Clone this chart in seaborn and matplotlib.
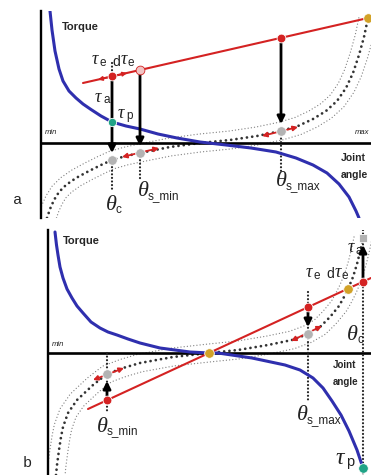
import numpy as np
import matplotlib
matplotlib.use("Agg")
import matplotlib.pyplot as plt
import seaborn as sns

# schematic units: joint angle along x, torque along y (1 unit ~ 1 px)

# ---- panel a ----
a_passive_angle = [9, 11, 14, 18, 22, 28, 35, 42, 50, 60, 71, 85, 99, 117, 136, 159, 185, 210, 235, 255, 272, 286, 298, 308, 315, 318]
a_passive_torque = [132, 113, 92, 74, 62, 52, 45, 39, 33.5, 27, 21, 17, 14, 9, 5, 1, -2, -5, -9, -15, -22, -30, -41, -54, -68, -75]
a_stiff_angle = [6, 9, 13, 18, 25, 35, 48, 60, 71, 85, 99, 129, 159, 189, 216, 240, 257, 272, 285, 296, 305, 312, 318, 323, 327]
a_stiff_torque = [-75, -66, -57, -49, -42, -35, -28, -22, -17, -13, -10, -4, 0, 3, 7, 12, 17, 24, 32, 42, 55, 70, 88, 106, 125]
a_load_angle = [42, 327]
a_load_torque = [60, 125]
a_red_angle = [71, 240]
a_red_torque = [67, 105]
a_pink_angle = [99]
a_pink_torque = [73]
a_gold_angle = [327]
a_gold_torque = [125]
a_grey_angle = [71, 99, 240]
a_grey_torque = [-17, -10, 12]
a_green_angle = [71]
a_green_torque = [21]

# ---- panel b ----
b_passive_angle = [7, 8.5, 10, 12, 15, 19, 24, 29, 35, 43, 52, 60, 69, 80, 92, 112, 142, 161, 170, 204, 237, 252, 265, 275, 284, 293, 301, 309, 315]
b_passive_torque = [121, 108, 98, 86, 75, 64, 55, 47, 40, 31, 25, 21, 18, 14, 10, 5, 1, 0, 0, -5, -12, -17, -25, -35, -48, -62, -78, -97, -115]
b_stiff_angle = [8, 9, 11, 13, 15, 20, 29, 45, 59, 75, 92, 125, 161, 190, 220, 244, 260, 272, 282, 291, 296, 300, 305, 309, 312, 315]
b_stiff_torque = [-122, -112, -97, -84, -74, -60, -47, -32, -21, -15, -10, -4, 0, 3, 8, 13, 19, 26, 36, 47, 56, 64, 76, 89, 101, 115]
b_load_angle = [40, 323]
b_load_torque = [-56, 75]
b_red_angle = [59, 260, 315]
b_red_torque = [-47, 46, 71]
b_gold_angle = [161, 300]
b_gold_torque = [0, 64]
b_grey_angle = [59, 260]
b_grey_torque = [-21, 19]
b_top_angle = [315]
b_top_torque = [115]
b_green_angle = [315]
b_green_torque = [-115]

BLUE = "#2f2fae"
RED = "#d42222"
GOLD = "#d2a227"
GREY = "#b3b3b3"
GREEN = "#1fa386"


def offset_curve(x, y, d):
    x = np.asarray(x, float)
    y = np.asarray(y, float)
    tx = np.gradient(x)
    ty = np.gradient(y)
    n = np.hypot(tx, ty)
    return x - d * ty / n, y + d * tx / n


def draw_band(ax, x, y):
    # central stiffness curve with two thin dotted neighbours
    for d in (-9, 9):
        ox, oy = offset_curve(x, y, d)
        sns.lineplot(x=ox, y=oy, ax=ax, sort=False, estimator=None, color="#858585",
                     lw=1.0, linestyle=(0, (0.01, 2.3)), dash_capstyle="round", zorder=2)
    sns.lineplot(x=x, y=y, ax=ax, sort=False, estimator=None, color="#333333",
                 lw=2.0, linestyle=(0, (0.01, 1.9)), dash_capstyle="round", zorder=2)


def arrow(ax, start, end, color="black", lw=2.0, style="-|>", scale=11, shrink=4):
    ax.annotate("", xy=end, xytext=start,
                arrowprops=dict(arrowstyle=style, color=color, lw=lw, mutation_scale=scale,
                                shrinkA=0, shrinkB=shrink), zorder=5)


def guide(ax, x, y0, y1):
    ax.plot([x, x], [y0, y1], color="#222222", lw=1.6, linestyle=(0, (0.01, 1.6)),
            dash_capstyle="round", zorder=3)


def dots(ax, x, y, color, size=42, edge="white", marker="o"):
    sns.scatterplot(x=x, y=y, ax=ax, s=size, color=color, edgecolor=edge, linewidth=0.6,
                    marker=marker, zorder=6)


def greek(ax, x, y, sym, size):
    ax.text(x, y, sym, fontsize=size, family="Liberation Serif", style="italic",
            ha="left", va="center", color="#222222")


def sub(ax, x, y, s, size):
    ax.text(x, y, s, fontsize=size, ha="left", va="center", color="#222222")


def symbol(ax, x, y, sym, s, size, subsize, dx, dy):
    greek(ax, x, y, sym, size)
    sub(ax, x + dx, y - dy, s, subsize)


def tau_pair(ax, x, y):
    # "tau_e d tau_e" label
    symbol(ax, x, y, "τ", "e", 13, 8.5, 7, 3)
    sub(ax, x + 20, y - 1.5, "d", 10)
    symbol(ax, x + 29, y, "τ", "e", 13, 8.5, 7, 3)


def setup_axes(ax, xmax, ymin, ymax):
    ax.set_xlim(0, xmax)
    ax.set_ylim(ymin, ymax)
    for side in ["top", "right", "bottom"]:
        ax.spines[side].set_visible(False)
    ax.spines["left"].set_linewidth(1.7)
    ax.spines["left"].set_color("black")
    ax.set_xticks([])
    ax.set_yticks([])
    ax.set_xlabel("")
    ax.set_ylabel("")
    ax.patch.set_alpha(0)
    ax.axhline(0, color="black", lw=1.9, zorder=3)


def panel_a(ax):
    setup_axes(ax, 330, -75, 132)
    draw_band(ax, a_stiff_angle, a_stiff_torque)
    sns.lineplot(x=a_passive_angle, y=a_passive_torque, ax=ax, sort=False, estimator=None,
                 color=BLUE, lw=2.2, zorder=4)
    sns.lineplot(x=a_load_angle, y=a_load_torque, ax=ax, sort=False, estimator=None,
                 color=RED, lw=1.5, zorder=4)

    guide(ax, 71, 80, 68)
    guide(ax, 71, -17, -47)
    guide(ax, 99, -10, -37)
    guide(ax, 240, 8, -29)

    arrow(ax, (71, 67), (71, -17), shrink=5)
    arrow(ax, (99, 73), (99, -10), shrink=5)
    arrow(ax, (240, 105), (240, 12), shrink=5)

    arrow(ax, (57, 63.4), (86, 70), color=RED, lw=1.2, style="<|-|>", scale=6, shrink=0)
    arrow(ax, (81, -14), (118, -5), color=RED, lw=1.3, style="<|-|>", scale=7, shrink=0)
    arrow(ax, (221, 7), (257, 16), color=RED, lw=1.3, style="<|-|>", scale=7, shrink=0)

    dots(ax, a_grey_angle, a_grey_torque, GREY, size=48)
    dots(ax, a_red_angle, a_red_torque, RED, size=40)
    dots(ax, a_pink_angle, a_pink_torque, "#f1c4c4", size=40, edge=RED)
    dots(ax, a_gold_angle, a_gold_torque, GOLD, size=48)
    dots(ax, a_green_angle, a_green_torque, GREEN, size=36)

    ax.text(21, 116, "Torque", fontsize=8, fontweight="bold", ha="left", va="center")
    ax.text(4, 10, "min", fontsize=5.5, style="italic", ha="left", va="center", color="#222222")
    ax.text(314, 11, "max", fontsize=5.5, style="italic", ha="left", va="center", color="#222222")
    ax.text(300, -15, "Joint", fontsize=7.5, fontweight="bold", ha="left", va="center")
    ax.text(300, -32, "angle", fontsize=7.5, fontweight="bold", ha="left", va="center")

    tau_pair(ax, 51, 83)
    symbol(ax, 54, 46, "τ", "a", 13, 8.5, 8, 3)
    symbol(ax, 77, 30, "τ", "p", 13, 8.5, 8, 3)
    symbol(ax, 65, -62, "θ", "c", 16, 8.5, 10, 5)
    symbol(ax, 97, -49, "θ", "s_min", 16, 8.5, 10, 4)
    symbol(ax, 235, -39, "θ", "s_max", 16, 8.5, 10, 4)


def panel_b(ax):
    setup_axes(ax, 323, -122, 123)
    draw_band(ax, b_stiff_angle, b_stiff_torque)
    sns.lineplot(x=b_passive_angle, y=b_passive_torque, ax=ax, sort=False, estimator=None,
                 color=BLUE, lw=2.2, zorder=4)
    sns.lineplot(x=b_load_angle, y=b_load_torque, ax=ax, sort=False, estimator=None,
                 color=RED, lw=1.5, zorder=4)

    guide(ax, 59, 0, -60)
    guide(ax, 260, 61, -49)
    guide(ax, 315, 123, -122)

    arrow(ax, (59, -47), (59, -21), shrink=5)
    arrow(ax, (260, 46), (260, 19), shrink=5)
    arrow(ax, (315, 71), (315, 115), shrink=5)

    arrow(ax, (45, -27), (76, -15), color=RED, lw=1.3, style="<|-|>", scale=7, shrink=0)
    arrow(ax, (243, 12), (274, 27), color=RED, lw=1.3, style="<|-|>", scale=7, shrink=0)

    dots(ax, b_grey_angle, b_grey_torque, GREY, size=48)
    dots(ax, b_top_angle, b_top_torque, GREY, size=36, marker="s")
    dots(ax, b_red_angle, b_red_torque, RED, size=40)
    dots(ax, b_gold_angle, b_gold_torque, GOLD, size=48)
    dots(ax, b_green_angle, b_green_torque, GREEN, size=48)

    ax.text(15, 112, "Torque", fontsize=8, fontweight="bold", ha="left", va="center")
    ax.text(4, 8, "min", fontsize=5.5, style="italic", ha="left", va="center", color="#222222")
    ax.text(285, -12, "Joint", fontsize=7, fontweight="bold", ha="left", va="center")
    ax.text(285, -29, "angle", fontsize=7, fontweight="bold", ha="left", va="center")

    tau_pair(ax, 258, 80)
    symbol(ax, 300, 105, "τ", "a", 13, 8.5, 8, 3)
    symbol(ax, 287, -105, "τ", "p", 17, 10.5, 11, 4)
    symbol(ax, 299, 18, "θ", "c", 16, 8.5, 10, 5)
    symbol(ax, 49, -74, "θ", "s_min", 16, 8.5, 10, 4)
    symbol(ax, 249, -63, "θ", "s_max", 16, 8.5, 10, 4)


def main():
    sns.set_style("white")
    plt.rcParams["font.family"] = ["Liberation Sans", "DejaVu Sans"]

    fig = plt.figure(figsize=(3.71, 4.75), dpi=100)
    ax_a = fig.add_axes([41 / 371, 257 / 475, 330 / 371, 207 / 475])
    ax_b = fig.add_axes([48 / 371, 0, 323 / 371, 245 / 475])
    panel_a(ax_a)
    panel_b(ax_b)

    fig.text(18 / 371, 1 - 200 / 475, "a", fontsize=11, family="Liberation Mono", ha="center", va="center")
    fig.text(27 / 371, 1 - 463 / 475, "b", fontsize=11, family="Liberation Mono", ha="center", va="center")

    fig.savefig("out.png", dpi=100)


if __name__ == "__main__":
    main()
